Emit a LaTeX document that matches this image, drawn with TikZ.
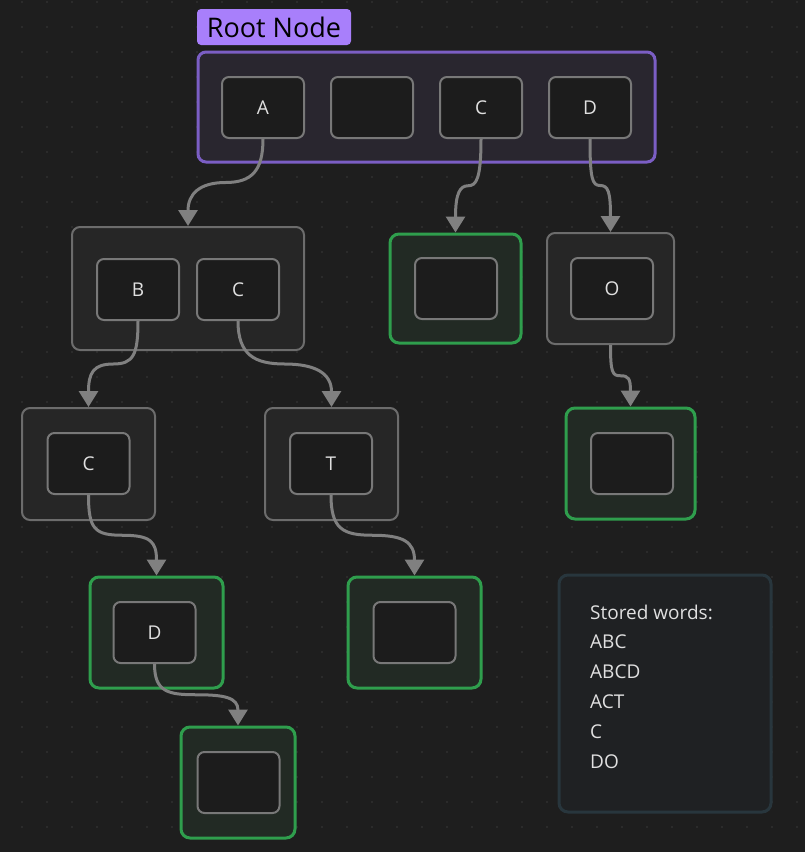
\documentclass[tikz,border=0pt]{standalone}
\usepackage{fontspec}
\setmainfont{Open Sans}
\usetikzlibrary{arrows.meta,calc}
\definecolor{bgc}{HTML}{1E1E1E}
\definecolor{dotc}{HTML}{303030}
\definecolor{cellfill}{HTML}{1C1C1C}
\definecolor{cellline}{HTML}{787878}
\definecolor{boxfill}{HTML}{262626}
\definecolor{boxline}{HTML}{6C6C6C}
\definecolor{grfill}{HTML}{222A24}
\definecolor{grline}{HTML}{2F9E4D}
\definecolor{rootfill}{HTML}{29262F}
\definecolor{rootline}{HTML}{7B5EC4}
\definecolor{labelc}{HTML}{A87FFB}
\definecolor{infofill}{HTML}{1F2123}
\definecolor{infoline}{HTML}{28363D}
\definecolor{txt}{HTML}{E0E0E0}
\definecolor{wirec}{HTML}{808080}
\newcommand\wire[4]{\draw[wire] (#1.south) .. controls +(0,#3) and +(#4,0) .. ($(#1.south)!.5!(#2.north)$) .. controls +(-#4,0) and +(0,-#3) .. (#2.north);}
\begin{document}
\begin{tikzpicture}[x=1pt,y=-1pt,
  cell/.style={draw=cellline, line width=2pt, fill=cellfill, rounded corners=7pt,
    minimum width=82pt, minimum height=61pt, inner sep=0pt, text=txt,
    font=\fontsize{19}{23}\selectfont},
  graybox/.style={draw=boxline, line width=2pt, fill=boxfill, rounded corners=8pt, inner sep=0pt},
  greenbox/.style={draw=grline, line width=3pt, fill=grfill, rounded corners=9pt, inner sep=0pt},
  rootbox/.style={draw=rootline, line width=3pt, fill=rootfill, rounded corners=8pt, inner sep=0pt},
  wire/.style={draw=wirec, line width=3pt, -{Triangle[length=16pt,width=19pt]}},
  infotext/.style={text=txt, font=\fontsize{19}{23}\selectfont, anchor=west, inner sep=0pt}]
\useasboundingbox (0,0) rectangle (805,852);
\fill[bgc] (0,0) rectangle (805,852);
\foreach \i in {0,...,31}{\foreach \j in {0,...,33}{\fill[dotc] (22+25*\i,2+25*\j) circle (1.1pt);}}

% root
\node[fill=labelc, rounded corners=4pt, minimum width=154pt, minimum height=36pt, inner sep=0pt,
  font=\fontsize{27}{31}\selectfont, text=black] (lbl) at (274,27) {Root Node};
\node[rootbox, minimum width=457pt, minimum height=110pt] (root) at (426.5,107) {};
\node[cell] (rA) at (263,107.5) {A};
\node[cell] (rE) at (372,107.5) {};
\node[cell] (rC) at (481,107.5) {C};
\node[cell] (rD) at (590,107.5) {D};

% level 1
\node[graybox, minimum width=232pt, minimum height=123pt] (bc) at (188,288.5) {};
\node[cell] (bB) at (138,289.5) {B};
\node[cell] (bC) at (238,289.5) {C};
\node[greenbox, minimum width=131pt, minimum height=109pt] (g1) at (455.5,288.5) {};
\node[cell] (g1i) at (456,288.5) {};
\node[graybox, minimum width=127pt, minimum height=111pt] (ob) at (610.5,288.5) {};
\node[cell] (oO) at (612,288.5) {O};

% level 2
\node[graybox, minimum width=133pt, minimum height=112pt] (cb) at (88.5,464) {};
\node[cell] (cC) at (88.5,463.5) {C};
\node[graybox, minimum width=133pt, minimum height=112pt] (tb) at (331.5,464) {};
\node[cell] (tT) at (331,463.5) {T};
\node[greenbox, minimum width=129pt, minimum height=111pt] (gO) at (630.5,463.5) {};
\node[cell] (gOi) at (632,463.5) {};

% level 3
\node[greenbox, minimum width=133pt, minimum height=111pt] (gD) at (156.5,632.5) {};
\node[cell] (dD) at (154.5,632.5) {D};
\node[greenbox, minimum width=133pt, minimum height=111pt] (gT) at (414.5,632.5) {};
\node[cell] (gTi) at (414.5,632.5) {};

% level 4
\node[greenbox, minimum width=114pt, minimum height=111pt] (gB) at (238,782.5) {};
\node[cell] (gBi) at (238.5,782.5) {};

% info box
\node[draw=infoline, line width=3pt, fill=infofill, rounded corners=9pt,
  minimum width=212pt, minimum height=237pt] (info) at (665,693.5) {};
\node[infotext] (w0) at (590,612) {Stored words:};
\node[infotext] (w1) at (590,642) {ABC};
\node[infotext] (w2) at (590,672) {ABCD};
\node[infotext] (w3) at (590,702) {ACT};
\node[infotext] (w4) at (590,732) {C};
\node[infotext] (w5) at (590,762) {DO};

% connectors
\wire{rA}{bc}{32}{26}
\wire{rC}{g1}{40}{8}
\wire{rD}{ob}{40}{-8}
\wire{bB}{cb}{34}{20}
\wire{bC}{tb}{34}{-30}
\wire{ob}{gO}{28}{-8}
\wire{cC}{gD}{34}{-28}
\wire{tT}{gT}{34}{-30}
\wire{dD}{gB}{28}{-28}
\end{tikzpicture}
\end{document}
